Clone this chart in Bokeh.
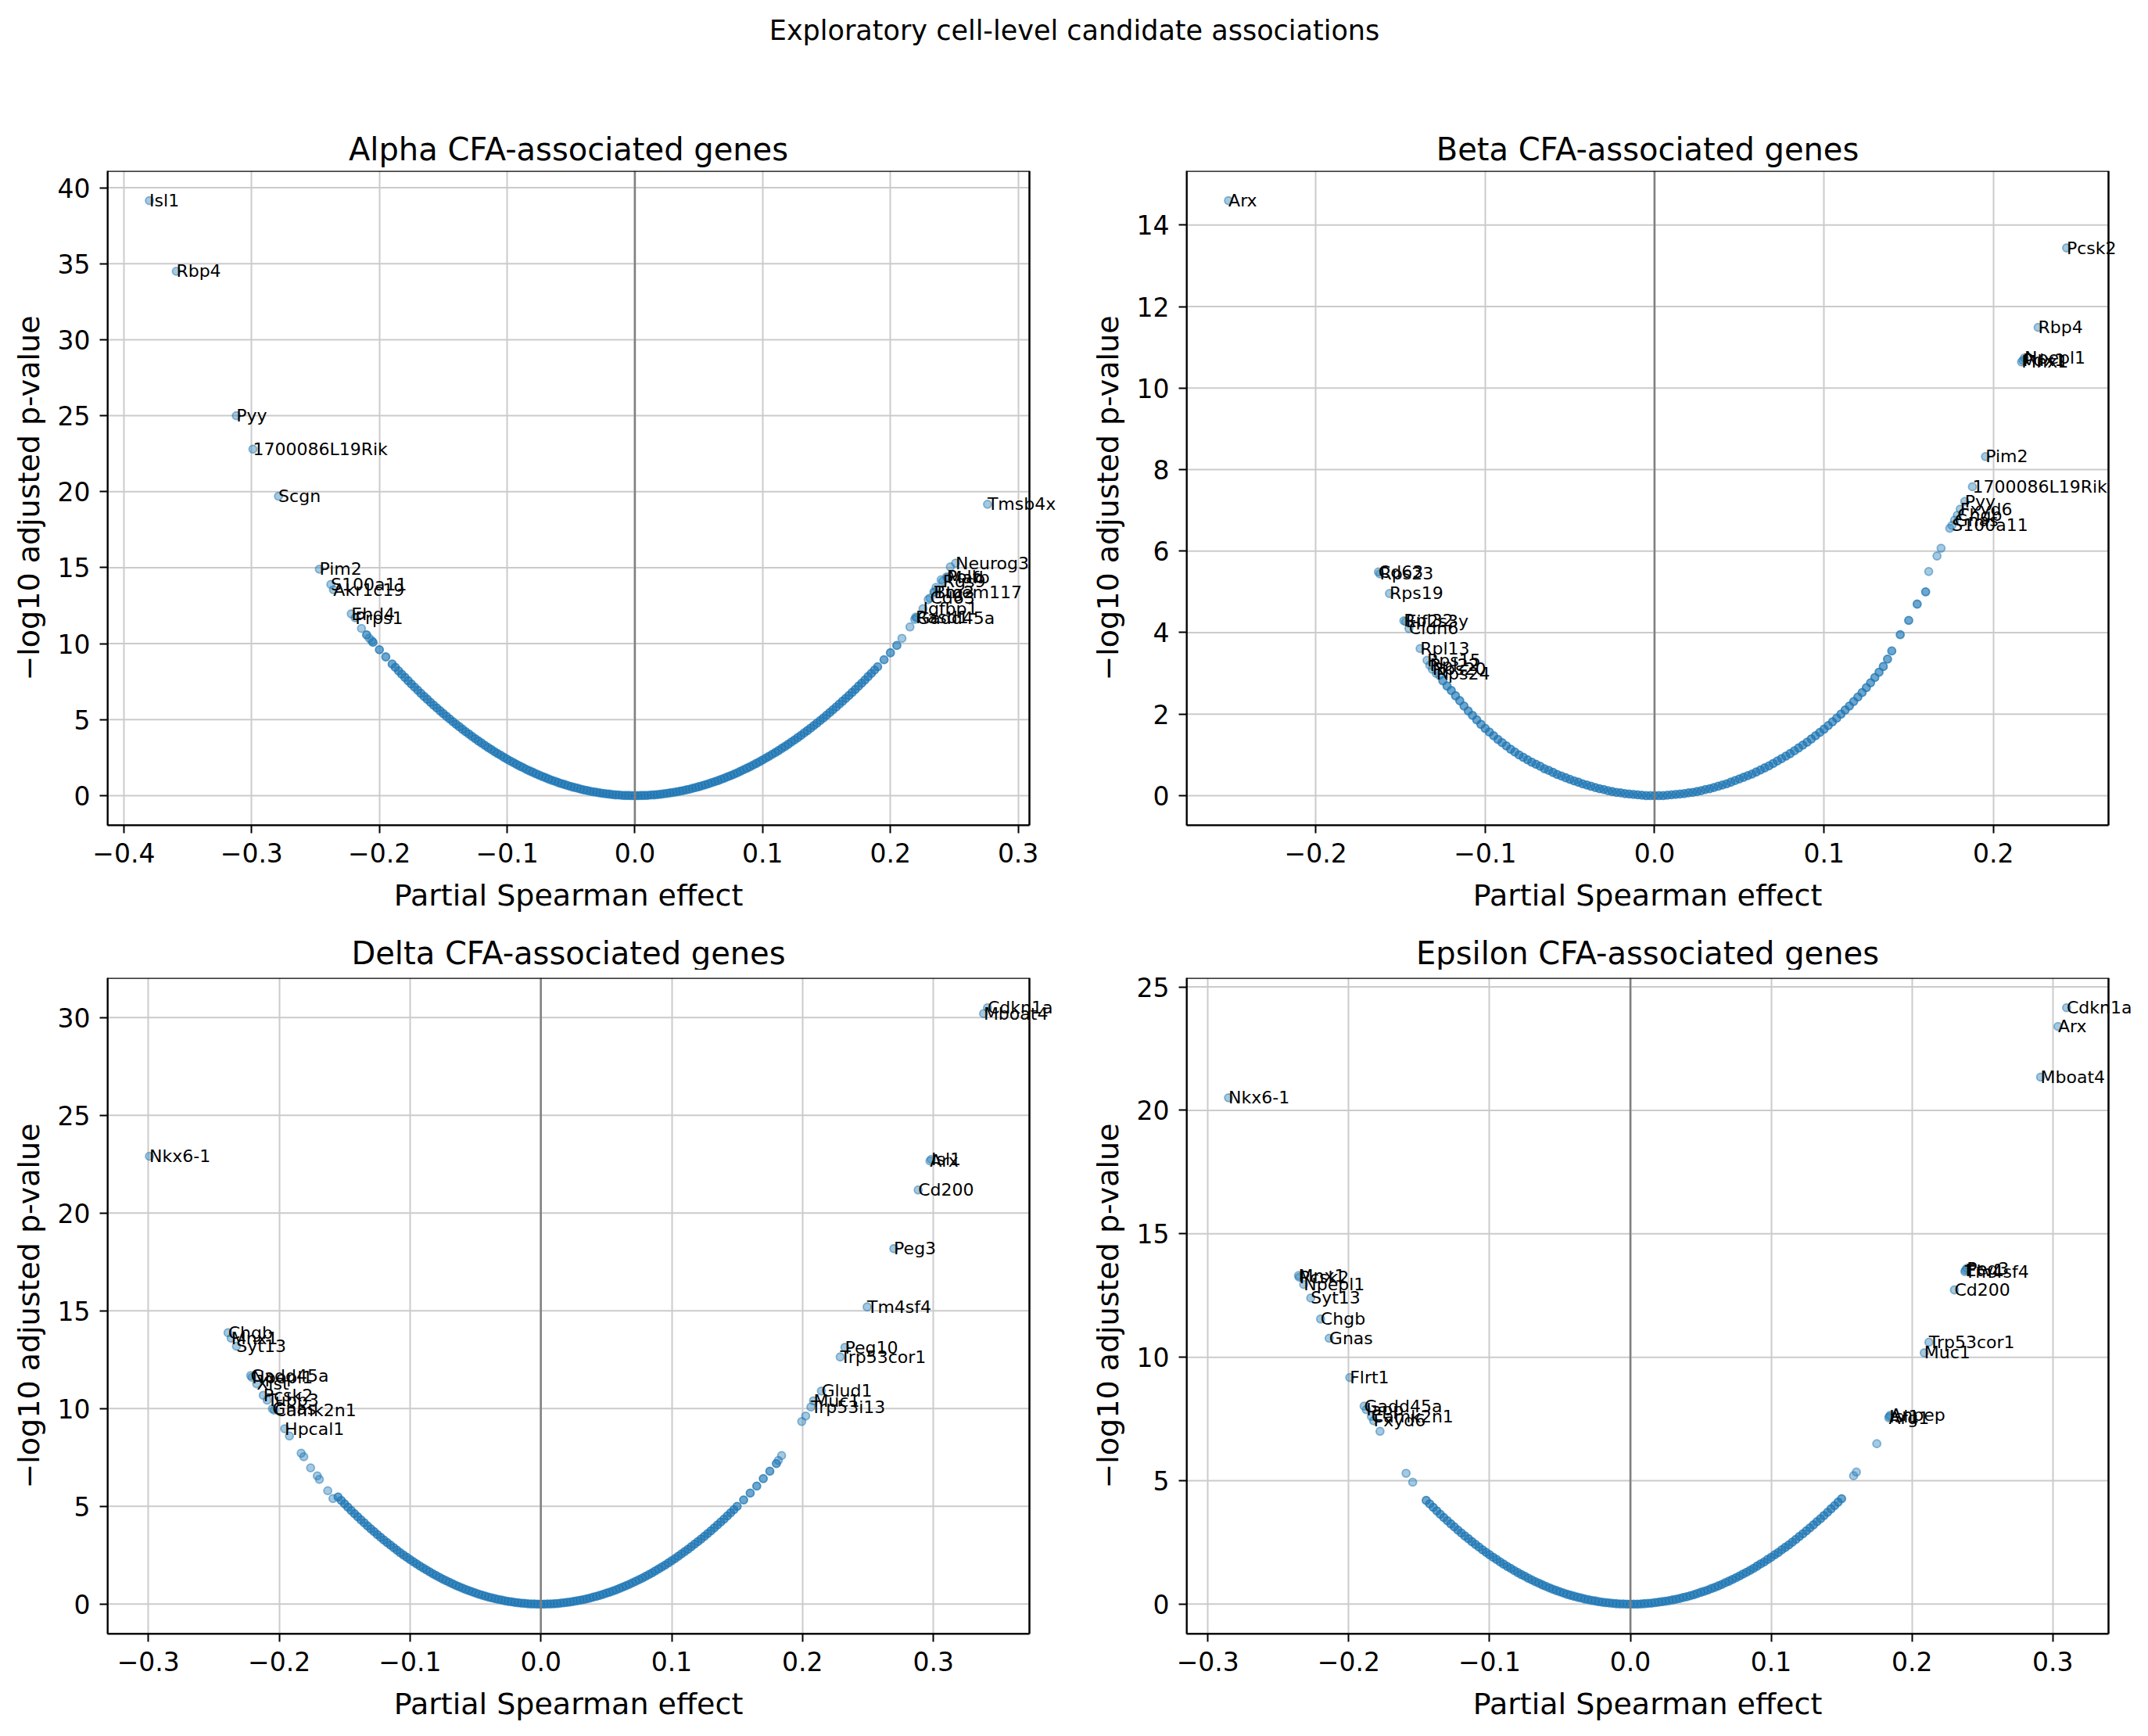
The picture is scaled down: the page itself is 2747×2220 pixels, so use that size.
from bokeh.plotting import figure
from bokeh.models import (ColumnDataSource, Span, Range1d, FixedTicker,
                          CustomJSTickFormatter, Label, BoxAnnotation)
from bokeh.layouts import column, row
from bokeh.embed import file_html
from bokeh.resources import INLINE

SUPTITLE = "Exploratory cell-level candidate associations"
XLABEL = "Partial Spearman effect"
YLABEL = "\u2212log10 adjusted p-value"

# ---------------- Alpha ----------------
alpha_title = "Alpha CFA-associated genes"
alpha_genes = ["Isl1", "Rbp4", "Pyy", "1700086L19Rik", "Scgn", "Pim2", "S100a11", "Akr1c19", "Ehd4", "Prps1",
               "Tmsb4x", "Neurog3", "Polb", "Mafb", "Rgs9", "Btg2", "Tmem117", "Cd63", "Igfbp1", "Gadd45a", "Rasd1"]
alpha_gene_x = [-0.380, -0.359, -0.312, -0.299, -0.279, -0.247, -0.238, -0.236, -0.222, -0.219,
                0.276, 0.251, 0.244, 0.2445, 0.241, 0.234, 0.2345, 0.231, 0.2255, 0.2205, 0.2198]
alpha_gene_y = [39.15, 34.5, 25.0, 22.8, 19.7, 14.9, 13.9, 13.55, 11.96, 11.7,
                19.17, 15.3, 14.4, 14.35, 14.1, 13.4, 13.38, 13.0, 12.3, 11.7, 11.75]
alpha_other_x = [-0.214, -0.208, -0.206, 0.2469, 0.2397, 0.2357, 0.2296, 0.219, 0.2153, 0.209]
alpha_other_y = [11.0, 10.36, 10.2, 15.05, 14.2, 13.7, 12.9, 11.6, 11.1, 10.35]
alpha_band_x = [-0.21, -0.205, -0.2, -0.195, -0.19, -0.185, -0.18, -0.175, -0.17, -0.165, -0.16, -0.155,
                -0.15, -0.145, -0.14, -0.135, -0.13, -0.125, -0.12, -0.115, -0.11, -0.105, -0.1, -0.095,
                -0.09, -0.085, -0.08, -0.075, -0.07, -0.065, -0.06, -0.055, -0.05, -0.045, -0.04, -0.035,
                -0.03, -0.025, -0.02, -0.015, -0.01, -0.005, 0.0,
                0.005, 0.01, 0.015, 0.02, 0.025, 0.03, 0.035, 0.04, 0.045, 0.05, 0.055, 0.06, 0.065, 0.07,
                0.075, 0.08, 0.085, 0.09, 0.095, 0.1, 0.105, 0.11, 0.115, 0.12, 0.125, 0.13, 0.135, 0.14,
                0.145, 0.15, 0.155, 0.16, 0.165, 0.17, 0.175, 0.18, 0.185, 0.19, 0.195, 0.2, 0.205]
alpha_band_y = [10.58, 10.09, 9.6, 9.13, 8.66, 8.21, 7.78, 7.35, 6.94, 6.53, 6.14, 5.77,
                5.4, 5.05, 4.7, 4.37, 4.06, 3.75, 3.46, 3.17, 2.9, 2.65, 2.4, 2.17,
                1.94, 1.73, 1.54, 1.35, 1.18, 1.01, 0.86, 0.73, 0.6, 0.49, 0.38, 0.29,
                0.22, 0.15, 0.1, 0.05, 0.02, 0.01, 0.0,
                0.01, 0.02, 0.05, 0.09, 0.15, 0.21, 0.29, 0.38, 0.48, 0.59, 0.71, 0.85, 0.99, 1.15,
                1.32, 1.5, 1.7, 1.9, 2.12, 2.35, 2.59, 2.84, 3.11, 3.38, 3.67, 3.97, 4.28, 4.61,
                4.94, 5.29, 5.65, 6.02, 6.4, 6.79, 7.2, 7.61, 8.04, 8.48, 8.94, 9.4, 9.88]
alpha_mid_x = [-0.1875, -0.1825, -0.1775, -0.1725, -0.1675, -0.1625, -0.1575, -0.1525, -0.1475, -0.1425,
               -0.1375, -0.1325, -0.1275, -0.1225, -0.1175, -0.1125, -0.1075, -0.1025, -0.0975, -0.0925,
               -0.0875, -0.0825, -0.0775, -0.0725, -0.0675, -0.0625, -0.0575, -0.0525, -0.0475, -0.0425,
               -0.0375, -0.0325, -0.0275, -0.0225, -0.0175, -0.0125, -0.0075, -0.0025,
               0.0025, 0.0075, 0.0125, 0.0175, 0.0225, 0.0275, 0.0325, 0.0375, 0.0425, 0.0475,
               0.0525, 0.0575, 0.0625, 0.0675, 0.0725, 0.0775, 0.0825, 0.0875, 0.0925, 0.0975,
               0.1025, 0.1075, 0.1125, 0.1175, 0.1225, 0.1275, 0.1325, 0.1375, 0.1425, 0.1475,
               0.1525, 0.1575, 0.1625, 0.1675, 0.1725, 0.1775, 0.1825, 0.1875]
alpha_mid_y = [8.44, 7.99, 7.56, 7.14, 6.73, 6.34, 5.95, 5.58, 5.22, 4.87,
               4.54, 4.21, 3.9, 3.6, 3.31, 3.04, 2.77, 2.52, 2.28, 2.05,
               1.84, 1.63, 1.44, 1.26, 1.09, 0.94, 0.79, 0.66, 0.54, 0.43,
               0.34, 0.25, 0.18, 0.12, 0.07, 0.04, 0.01, 0.0,
               0.0, 0.01, 0.04, 0.07, 0.12, 0.18, 0.25, 0.33, 0.42, 0.53,
               0.65, 0.78, 0.92, 1.07, 1.24, 1.41, 1.6, 1.8, 2.01, 2.23,
               2.47, 2.72, 2.97, 3.24, 3.53, 3.82, 4.13, 4.44, 4.77, 5.11,
               5.47, 5.83, 6.21, 6.59, 6.99, 7.4, 7.83, 8.26]
alpha_xticks = [-0.4, -0.3, -0.2, -0.1, 0.0, 0.1, 0.2, 0.3]
alpha_yticks = [0, 5, 10, 15, 20, 25, 30, 35, 40]

# ---------------- Beta ----------------
beta_title = "Beta CFA-associated genes"
beta_genes = ["Arx", "Cd63", "Rps23", "Rps19", "Rpl32", "Eif2s3y", "Cldn6", "Rpl13", "Rps15", "Rpl22", "Rps20", "Rps24",
              "Pcsk2", "Rbp4", "Npepl1", "Pdx1", "Mnx1", "Pim2", "1700086L19Rik", "Pyy", "Fxyd6", "Chgb", "Gnas", "S100a11"]
beta_gene_x = [-0.2515, -0.163, -0.1622, -0.1565, -0.148, -0.1469, -0.145, -0.1384, -0.1343, -0.1327, -0.1312, -0.1289,
               0.2432, 0.2264, 0.2183, 0.2174, 0.2166, 0.1953, 0.1876, 0.1831, 0.1804, 0.1787, 0.1771, 0.1755]
beta_gene_y = [14.6, 5.49, 5.44, 4.96, 4.29, 4.27, 4.1, 3.61, 3.32, 3.2, 3.1, 3.0,
               13.44, 11.49, 10.74, 10.68, 10.64, 8.32, 7.58, 7.22, 7.03, 6.88, 6.76, 6.63]
beta_other_x = [0.1742, 0.1691, 0.1667, 0.1618, -0.127]
beta_other_y = [6.56, 6.07, 5.88, 5.5, 2.95]
beta_band_x = [-0.125, -0.12, -0.115, -0.11, -0.105, -0.1, -0.095, -0.09, -0.085, -0.08, -0.075, -0.07,
               -0.065, -0.06, -0.055, -0.05, -0.045, -0.04, -0.035, -0.03, -0.025, -0.02, -0.015, -0.01, -0.005, 0.0,
               0.005, 0.01, 0.015, 0.02, 0.025, 0.03, 0.035, 0.04, 0.045, 0.05, 0.055, 0.06, 0.065, 0.07, 0.075,
               0.08, 0.085, 0.09, 0.095, 0.1, 0.105, 0.11, 0.115, 0.12, 0.125, 0.13, 0.135, 0.14, 0.145, 0.15,
               0.155, 0.16]
beta_band_y = [2.82, 2.58, 2.33, 2.08, 1.86, 1.65, 1.47, 1.3, 1.14, 1.0, 0.88, 0.77,
               0.66, 0.57, 0.48, 0.4, 0.33, 0.26, 0.2, 0.15, 0.1, 0.07, 0.04, 0.02, 0.0, 0.0,
               0.0, 0.02, 0.04, 0.07, 0.1, 0.15, 0.2, 0.26, 0.33, 0.41, 0.49, 0.58, 0.68, 0.79, 0.91,
               1.03, 1.17, 1.31, 1.47, 1.63, 1.81, 2.0, 2.2, 2.42, 2.65, 2.9, 3.17, 3.55, 3.95, 4.3,
               4.7, 5.0]
beta_mid_x = [-0.1225, -0.1175, -0.1125, -0.1075, -0.1025, -0.0975, -0.0925, -0.0875, -0.0825, -0.0775,
              -0.0725, -0.0675, -0.0625, -0.0575, -0.0525, -0.0475, -0.0425, -0.0375, -0.0325, -0.0275,
              -0.0225, -0.0175, -0.0125, -0.0075, -0.0025,
              0.0025, 0.0075, 0.0125, 0.0175, 0.0225, 0.0275, 0.0325, 0.0375, 0.0425, 0.0475,
              0.0525, 0.0575, 0.0625, 0.0675, 0.0725, 0.0775, 0.0825, 0.0875, 0.0925, 0.0975,
              0.1025, 0.1075, 0.1125, 0.1175, 0.1225, 0.1275, 0.1325, 0.1375]
beta_mid_y = [2.69, 2.45, 2.2, 1.97, 1.75, 1.56, 1.38, 1.22, 1.07, 0.94,
              0.82, 0.72, 0.62, 0.52, 0.44, 0.36, 0.29, 0.23, 0.17, 0.12,
              0.08, 0.05, 0.03, 0.01, 0.0,
              0.0, 0.01, 0.03, 0.05, 0.08, 0.12, 0.17, 0.23, 0.29, 0.37,
              0.45, 0.53, 0.63, 0.73, 0.85, 0.97, 1.1, 1.24, 1.39, 1.55,
              1.72, 1.9, 2.1, 2.31, 2.53, 2.77, 3.03, 3.35]
beta_xticks = [-0.2, -0.1, 0.0, 0.1, 0.2]
beta_yticks = [0, 2, 4, 6, 8, 10, 12, 14]

# ---------------- Delta ----------------
delta_title = "Delta CFA-associated genes"
delta_genes = ["Nkx6-1", "Chgb", "Mnx1", "Syt13", "Gadd45a", "Npepl1", "Xist", "Pcsk2", "Tubb3", "Gnas", "Camk2n1", "Hpcal1",
               "Cdkn1a", "Mboat4", "Arx", "Isl1", "Cd200", "Peg3", "Tm4sf4", "Peg10", "Trp53cor1", "Glud1", "Muc1", "Trp53i13"]
delta_gene_x = [-0.2992, -0.2391, -0.2367, -0.2327, -0.2218, -0.2208, -0.2172, -0.2122, -0.2092, -0.2052, -0.2038, -0.1958,
                0.3414, 0.3384, 0.2974, 0.2984, 0.2884, 0.2698, 0.2494, 0.2324, 0.2288, 0.2144, 0.2084, 0.2064]
delta_gene_y = [22.9, 13.88, 13.6, 13.19, 11.69, 11.6, 11.27, 10.68, 10.43, 9.99, 9.92, 8.97,
                30.5, 30.2, 22.66, 22.74, 21.18, 18.18, 15.2, 13.13, 12.64, 10.9, 10.4, 10.08]
delta_other_x = [-0.1922, -0.1832, -0.1812, -0.176, -0.1709, -0.1693, -0.1629, -0.1589, 0.2024, 0.1994, 0.184, 0.1815]
delta_other_y = [8.6, 7.72, 7.54, 6.97, 6.56, 6.38, 5.8, 5.4, 9.62, 9.34, 7.6, 7.35]
delta_band_x = [-0.155, -0.15, -0.145, -0.14, -0.135, -0.13, -0.125, -0.12, -0.115, -0.11, -0.105, -0.1,
                -0.095, -0.09, -0.085, -0.08, -0.075, -0.07, -0.065, -0.06, -0.055, -0.05, -0.045, -0.04,
                -0.035, -0.03, -0.025, -0.02, -0.015, -0.01, -0.005, 0.0,
                0.005, 0.01, 0.015, 0.02, 0.025, 0.03, 0.035, 0.04, 0.045, 0.05, 0.055, 0.06, 0.065, 0.07,
                0.075, 0.08, 0.085, 0.09, 0.095, 0.1, 0.105, 0.11, 0.115, 0.12, 0.125, 0.13, 0.135, 0.14,
                0.145, 0.15, 0.155, 0.16, 0.165, 0.17, 0.175, 0.18]
delta_band_y = [5.48, 5.13, 4.79, 4.47, 4.16, 3.85, 3.56, 3.28, 3.02, 2.76, 2.51, 2.28,
                2.06, 1.85, 1.65, 1.46, 1.28, 1.12, 0.96, 0.82, 0.69, 0.57, 0.46, 0.36,
                0.28, 0.21, 0.14, 0.09, 0.05, 0.02, 0.01, 0.0,
                0.01, 0.02, 0.05, 0.09, 0.14, 0.2, 0.27, 0.36, 0.45, 0.56, 0.67, 0.8, 0.94, 1.09,
                1.25, 1.42, 1.6, 1.8, 2.0, 2.22, 2.45, 2.69, 2.94, 3.2, 3.47, 3.75, 4.05, 4.35,
                4.67, 5.0, 5.33, 5.68, 6.04, 6.42, 6.8, 7.19]
delta_mid_x = [-0.1525, -0.1475, -0.1425, -0.1375, -0.1325, -0.1275, -0.1225, -0.1175, -0.1125, -0.1075,
               -0.1025, -0.0975, -0.0925, -0.0875, -0.0825, -0.0775, -0.0725, -0.0675, -0.0625, -0.0575,
               -0.0525, -0.0475, -0.0425, -0.0375, -0.0325, -0.0275, -0.0225, -0.0175, -0.0125, -0.0075, -0.0025,
               0.0025, 0.0075, 0.0125, 0.0175, 0.0225, 0.0275, 0.0325, 0.0375, 0.0425, 0.0475,
               0.0525, 0.0575, 0.0625, 0.0675, 0.0725, 0.0775, 0.0825, 0.0875, 0.0925, 0.0975,
               0.1025, 0.1075, 0.1125, 0.1175, 0.1225, 0.1275, 0.1325, 0.1375, 0.1425, 0.1475]
delta_mid_y = [5.3, 4.96, 4.63, 4.31, 4.0, 3.71, 3.42, 3.15, 2.89, 2.63,
               2.4, 2.17, 1.95, 1.75, 1.55, 1.37, 1.2, 1.04, 0.89, 0.75,
               0.63, 0.51, 0.41, 0.32, 0.24, 0.17, 0.12, 0.07, 0.04, 0.01, 0.0,
               0.0, 0.01, 0.03, 0.07, 0.11, 0.17, 0.23, 0.31, 0.4, 0.5,
               0.61, 0.73, 0.87, 1.01, 1.17, 1.33, 1.51, 1.7, 1.9, 2.11,
               2.33, 2.57, 2.81, 3.07, 3.33, 3.61, 3.9, 4.2, 4.51, 4.83]
delta_xticks = [-0.3, -0.2, -0.1, 0.0, 0.1, 0.2, 0.3]
delta_yticks = [0, 5, 10, 15, 20, 25, 30]

# ---------------- Epsilon ----------------
eps_title = "Epsilon CFA-associated genes"
eps_genes = ["Nkx6-1", "Mnx1", "Pcsk2", "Npepl1", "Syt13", "Chgb", "Gnas", "Flrt1", "Gadd45a", "Iapp", "Camk2n1", "Fxyd6",
             "Cdkn1a", "Arx", "Mboat4", "Peg3", "Etv1", "Tm4sf4", "Cd200", "Trp53cor1", "Muc1", "Anpep", "Isl1", "Arg1"]
eps_gene_x = [-0.2854, -0.2357, -0.2351, -0.232, -0.227, -0.22, -0.2139, -0.1993, -0.1891, -0.1876, -0.1839, -0.1824,
              0.3098, 0.3037, 0.2913, 0.2389, 0.238, 0.2375, 0.2301, 0.212, 0.2087, 0.1845, 0.184, 0.1835]
eps_gene_y = [20.51, 13.31, 13.24, 12.95, 12.4, 11.55, 10.77, 9.18, 8.02, 7.88, 7.6, 7.43,
              24.16, 23.4, 21.35, 13.6, 13.53, 13.47, 12.73, 10.61, 10.18, 7.65, 7.6, 7.55]
eps_other_x = [-0.1778, -0.1593, -0.1546, 0.175, 0.1605, 0.1585]
eps_other_y = [7.0, 5.3, 4.94, 6.5, 5.35, 5.2]
eps_band_x = [-0.145, -0.14, -0.135, -0.13, -0.125, -0.12, -0.115, -0.11, -0.105, -0.1, -0.095, -0.09,
              -0.085, -0.08, -0.075, -0.07, -0.065, -0.06, -0.055, -0.05, -0.045, -0.04, -0.035, -0.03,
              -0.025, -0.02, -0.015, -0.01, -0.005, 0.0,
              0.005, 0.01, 0.015, 0.02, 0.025, 0.03, 0.035, 0.04, 0.045, 0.05, 0.055, 0.06, 0.065, 0.07,
              0.075, 0.08, 0.085, 0.09, 0.095, 0.1, 0.105, 0.11, 0.115, 0.12, 0.125, 0.13, 0.135, 0.14,
              0.145, 0.15]
eps_band_y = [4.2, 3.92, 3.64, 3.38, 3.13, 2.88, 2.65, 2.42, 2.2, 2.0, 1.81, 1.62,
              1.45, 1.28, 1.13, 0.98, 0.85, 0.72, 0.6, 0.5, 0.4, 0.32, 0.25, 0.18,
              0.13, 0.08, 0.05, 0.02, 0.01, 0.0,
              0.0, 0.02, 0.04, 0.08, 0.12, 0.17, 0.23, 0.3, 0.38, 0.48, 0.57, 0.68, 0.8, 0.93,
              1.07, 1.22, 1.37, 1.54, 1.71, 1.9, 2.09, 2.3, 2.51, 2.74, 2.97, 3.21, 3.46, 3.72,
              3.99, 4.27]
eps_mid_x = [-0.1425, -0.1375, -0.1325, -0.1275, -0.1225, -0.1175, -0.1125, -0.1075, -0.1025, -0.0975,
             -0.0925, -0.0875, -0.0825, -0.0775, -0.0725, -0.0675, -0.0625, -0.0575, -0.0525, -0.0475,
             -0.0425, -0.0375, -0.0325, -0.0275, -0.0225, -0.0175, -0.0125, -0.0075, -0.0025,
             0.0025, 0.0075, 0.0125, 0.0175, 0.0225, 0.0275, 0.0325, 0.0375, 0.0425, 0.0475,
             0.0525, 0.0575, 0.0625, 0.0675, 0.0725, 0.0775, 0.0825, 0.0875, 0.0925, 0.0975,
             0.1025, 0.1075, 0.1125, 0.1175, 0.1225, 0.1275, 0.1325, 0.1375, 0.1425, 0.1475]
eps_mid_y = [4.06, 3.78, 3.51, 3.25, 3.0, 2.76, 2.53, 2.31, 2.1, 1.9,
             1.71, 1.53, 1.36, 1.2, 1.05, 0.91, 0.78, 0.66, 0.55, 0.45,
             0.36, 0.28, 0.21, 0.15, 0.1, 0.06, 0.03, 0.01, 0.0,
             0.0, 0.01, 0.03, 0.06, 0.1, 0.14, 0.2, 0.27, 0.34, 0.43,
             0.52, 0.63, 0.74, 0.87, 1.0, 1.14, 1.29, 1.45, 1.63, 1.81,
             2.0, 2.2, 2.4, 2.62, 2.85, 3.09, 3.34, 3.59, 3.86, 4.13]
eps_xticks = [-0.3, -0.2, -0.1, 0.0, 0.1, 0.2, 0.3]
eps_yticks = [0, 5, 10, 15, 20, 25]

BLUE = "#1f77b4"
FONT = "DejaVu Sans"
TICK_PX = "33px"
LABEL_PX = "38px"
TITLE_PX = "40px"
GENE_PX = "22px"
GRID = "#cbcbcb"
PAGE_W = 2747
FRAME_W = 1179
LEFT_COL = (137, 60)    # border left of the axes box, room right of it
RIGHT_COL = (141, 51)
TOP_STRIP = 218
ROW_FRAME_H = (837, 839)
ROW_TOP = (0, 10)
ROW_BOTTOM = 65
MID_STRIP = 120
BOTTOM_STRIP = 66


def padded(vals, lo0=None):
    lo = min(vals) if lo0 is None else min(min(vals), lo0)
    hi = max(vals)
    d = (hi - lo) * 0.05
    return lo - d, hi + d


def panel(genes, gx, gy, ox, oy, bx, by, mx, my, xticks, yticks, col, frame_h, top_border):
    x0, x1 = padded(gx + ox + bx + mx)
    y0, y1 = padded(gy + oy + by + my, 0.0)
    left, extra = col
    # extra room right of the axes box so that gene names are not cut at the box edge
    xe = x1 + (x1 - x0) * extra / FRAME_W
    p = figure(frame_width=FRAME_W + extra, frame_height=frame_h,
               x_range=Range1d(x0, xe), y_range=Range1d(y0, y1),
               min_border_left=left, min_border_right=0,
               min_border_top=top_border, min_border_bottom=ROW_BOTTOM,
               toolbar_location=None, output_backend="svg")
    p.outline_line_color = None
    p.xaxis.ticker = FixedTicker(ticks=xticks, minor_ticks=[])
    p.yaxis.ticker = FixedTicker(ticks=yticks, minor_ticks=[])
    p.xaxis.formatter = CustomJSTickFormatter(code="return tick.toFixed(1).replace('-', '\u2212');")
    p.yaxis.formatter = CustomJSTickFormatter(code="return tick.toFixed(0);")
    p.xaxis.bounds = (x0, x1)
    p.yaxis.axis_label = YLABEL
    for ax in (p.xaxis, p.yaxis):
        ax.axis_label_text_font = FONT
        ax.axis_label_text_font_size = LABEL_PX
        ax.axis_label_text_font_style = "normal"
        ax.axis_label_text_color = "black"
        ax.major_label_text_font = FONT
        ax.major_label_text_font_size = TICK_PX
        ax.major_label_text_color = "black"
        ax.major_tick_out = 10
        ax.major_tick_in = 0
        ax.minor_tick_out = 0
        ax.major_tick_line_width = 2
        ax.major_tick_line_color = "black"
        ax.axis_line_width = 2
        ax.axis_line_color = "black"
        ax.major_label_standoff = 12
        ax.axis_label_standoff = 12
    p.xgrid.grid_line_color = GRID
    p.xgrid.grid_line_width = 2
    p.ygrid.visible = False
    n = len(yticks)
    p.segment(x0=[x0] * n, y0=yticks, x1=[x1] * n, y1=yticks,
              line_color=GRID, line_width=2, level="underlay")
    band = ColumnDataSource(dict(x=bx + mx, y=by + my))
    p.scatter("x", "y", source=band, marker="circle", size=10, fill_color=BLUE, line_color=BLUE,
              fill_alpha=0.65, line_alpha=0.75, line_width=1.8)
    src = ColumnDataSource(dict(x=ox + gx, y=oy + gy))
    p.scatter("x", "y", source=src, marker="circle", size=10, fill_color=BLUE, line_color=BLUE,
              fill_alpha=0.4, line_alpha=0.5, line_width=1.8)
    p.add_layout(Span(location=0, dimension="height", line_color="#808080", line_width=2.5))
    p.add_layout(BoxAnnotation(left=x0, right=x1, bottom=y0, top=y1, fill_color=None,
                               line_color="black", line_width=2.5, line_alpha=1.0))
    for name, x, y in zip(genes, gx, gy):
        p.add_layout(Label(x=x, y=y, text=name, text_font=FONT, text_font_size=GENE_PX,
                           text_color="black", text_align="left", text_baseline="alphabetic"))
    return p


def strip(height, texts):
    s = figure(width=PAGE_W, height=height, x_range=Range1d(0, PAGE_W), y_range=Range1d(height, 0),
               x_axis_type=None, y_axis_type=None, min_border=0,
               toolbar_location=None, output_backend="svg")
    s.outline_line_color = None
    for text, cx, cy, size in texts:
        s.add_layout(Label(x=cx, y=cy, text=text, text_align="center", text_baseline="middle",
                           text_font=FONT, text_font_size=size, text_color="black"))
    return s


left_c = LEFT_COL[0] + FRAME_W / 2
right_c = LEFT_COL[0] + FRAME_W + LEFT_COL[1] + RIGHT_COL[0] + FRAME_W / 2

pa = panel(alpha_genes, alpha_gene_x, alpha_gene_y, alpha_other_x, alpha_other_y,
           alpha_band_x, alpha_band_y, alpha_mid_x, alpha_mid_y, alpha_xticks, alpha_yticks,
           LEFT_COL, ROW_FRAME_H[0], ROW_TOP[0])
pb = panel(beta_genes, beta_gene_x, beta_gene_y, beta_other_x, beta_other_y,
           beta_band_x, beta_band_y, beta_mid_x, beta_mid_y, beta_xticks, beta_yticks,
           RIGHT_COL, ROW_FRAME_H[0], ROW_TOP[0])
pd = panel(delta_genes, delta_gene_x, delta_gene_y, delta_other_x, delta_other_y,
           delta_band_x, delta_band_y, delta_mid_x, delta_mid_y, delta_xticks, delta_yticks,
           LEFT_COL, ROW_FRAME_H[1], ROW_TOP[1])
pe = panel(eps_genes, eps_gene_x, eps_gene_y, eps_other_x, eps_other_y,
           eps_band_x, eps_band_y, eps_mid_x, eps_mid_y, eps_xticks, eps_yticks,
           RIGHT_COL, ROW_FRAME_H[1], ROW_TOP[1])

top = strip(TOP_STRIP, [(SUPTITLE, PAGE_W / 2, 38, "35px"),
                        (alpha_title, left_c, 190, TITLE_PX),
                        (beta_title, right_c, 190, TITLE_PX)])
mid = strip(MID_STRIP, [(XLABEL, left_c, 24, LABEL_PX),
                        (XLABEL, right_c, 24, LABEL_PX),
                        (delta_title, left_c, 98, TITLE_PX),
                        (eps_title, right_c, 98, TITLE_PX)])
bottom = strip(BOTTOM_STRIP, [(XLABEL, left_c, 24, LABEL_PX),
                              (XLABEL, right_c, 24, LABEL_PX)])

layout = column(top, row(pa, pb), mid, row(pd, pe), bottom)
open("out.html", "w").write(file_html(layout, INLINE))
